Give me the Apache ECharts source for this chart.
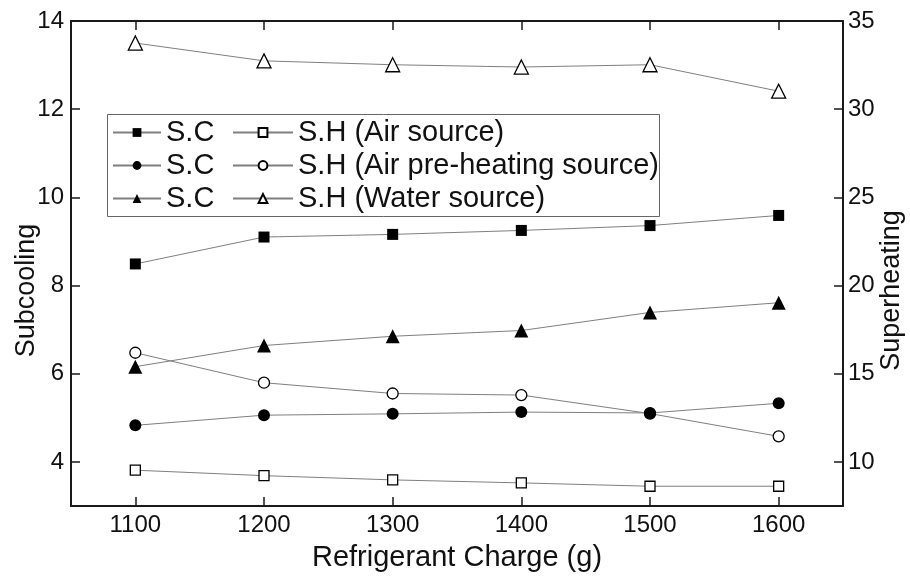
<!DOCTYPE html>
<html>
<head>
<meta charset="utf-8">
<script src="https://cdn.jsdelivr.net/npm/echarts@6/dist/echarts.min.js"></script>
<style>
  html, body { margin: 0; padding: 0; background: #fff; }
  #chart { width: 910px; height: 579px; }
</style>
</head>
<body>
<div id="chart"></div>
<script>
// refrigerant charge (g)
const charges = ['1100', '1200', '1300', '1400', '1500', '1600']

// subcooling, left axis
const scAir = [8.49, 9.10, 9.16, 9.25, 9.36, 9.59]
const scPreheat = [4.83, 5.06, 5.09, 5.13, 5.11, 5.33]
const scWater = [6.16, 6.64, 6.85, 6.98, 7.39, 7.61]

// superheating, right axis
const shAir = [9.53, 9.22, 8.98, 8.81, 8.62, 8.62]
const shPreheat = [16.19, 14.49, 13.88, 13.79, 12.74, 11.45]
const shWater = [33.75, 32.74, 32.52, 32.39, 32.52, 31.02]

const leftTicks = [4, 6, 8, 10, 12, 14]
const rightTicks = [10, 15, 20, 25, 30, 35]

const FONT = '"Liberation Sans", Arial, sans-serif'

const chart = echarts.init(document.getElementById('chart'))

function mkSeries(name, data, axis, symbol, size, filled) {
  return {
    name,
    type: 'line',
    data,
    yAxisIndex: axis,
    symbol,
    symbolSize: size,
    showAllSymbol: true,
    lineStyle: { color: '#7f7f7f', width: 1 },
    itemStyle: filled
      ? { color: '#000', borderColor: '#000', borderWidth: 0 }
      : { color: '#fff', borderColor: '#000', borderWidth: 1.3 },
    emphasis: { disabled: true },
    z: filled ? 3 : 2
  }
}

const series = [
  mkSeries('S.C (Air source)', scAir, 0, 'rect', 11, true),
  mkSeries('S.H (Air source)', shAir, 1, 'rect', 10, false),
  mkSeries('S.C (Air pre-heating source)', scPreheat, 0, 'circle', 12, true),
  mkSeries('S.H (Air pre-heating source)', shPreheat, 1, 'circle', 11, false),
  mkSeries('S.C (Water source)', scWater, 0, 'triangle', 14, true),
  mkSeries('S.H (Water source)', shWater, 1, 'triangle', 14, false)
]

const axisLine = { show: true, onZero: false, lineStyle: { color: '#1a1a1a', width: 2 } }
const tick = { show: true, inside: true, length: 9, lineStyle: { color: '#1a1a1a', width: 1.5 } }
const labelStyle = { fontFamily: FONT, fontSize: 24, color: '#111' }
// y names sit a little below the middle of the axis in the original
const yNameStyle = { fontFamily: FONT, fontSize: 27, color: '#111', padding: [0, 54, 0, 0] }

const legendText = { fontFamily: FONT, fontSize: 29, color: '#111', lineHeight: 27 }

const option = {
  backgroundColor: '#fff',
  animation: false,
  grid: { left: 71, right: 67, top: 21, bottom: 73, outerBoundsMode: 'none', containLabel: false },
  xAxis: [
    {
      type: 'category',
      data: charges,
      boundaryGap: true,
      name: 'Refrigerant Charge (g)',
      nameLocation: 'middle',
      nameGap: 37,
      nameMoveOverlap: false,
      nameTextStyle: { fontFamily: FONT, fontSize: 29, color: '#111' },
      axisLine,
      axisTick: { ...tick, alignWithLabel: true },
      axisLabel: { ...labelStyle, margin: 7 },
      splitLine: { show: false }
    },
    {
      type: 'category',
      data: charges,
      position: 'top',
      boundaryGap: true,
      axisLine,
      axisTick: { ...tick, alignWithLabel: true },
      axisLabel: { show: false },
      splitLine: { show: false }
    }
  ],
  yAxis: [
    {
      type: 'value',
      min: 3,
      max: 14,
      position: 'left',
      name: 'Subcooling',
      nameLocation: 'middle',
      nameGap: 31,
      nameMoveOverlap: false,
      nameRotate: 90,
      nameTextStyle: yNameStyle,
      axisLine,
      axisTick: { ...tick, customValues: leftTicks },
      axisLabel: { ...labelStyle, margin: 7, customValues: leftTicks },
      splitLine: { show: false }
    },
    {
      type: 'value',
      min: 7.5,
      max: 35,
      position: 'right',
      name: 'Superheating',
      nameLocation: 'middle',
      nameGap: 35,
      nameMoveOverlap: false,
      nameRotate: 90,
      nameTextStyle: yNameStyle,
      axisLine,
      axisTick: { ...tick, customValues: rightTicks },
      axisLabel: { ...labelStyle, margin: 5, customValues: rightTicks },
      splitLine: { show: false }
    }
  ],
  legend: [
    {
      data: series.filter(s => s.name.startsWith('S.C')).map(s => s.name),
      orient: 'vertical',
      left: 107,
      top: 113,
      itemWidth: 48,
      itemHeight: 11,
      itemGap: 4,
      formatter: () => 'S.C',
      textStyle: legendText,
      selectedMode: false
    },
    {
      data: series.filter(s => s.name.startsWith('S.H')).map(s => s.name),
      orient: 'vertical',
      left: 227,
      top: 113,
      itemWidth: 60,
      itemHeight: 11,
      itemGap: 4,
      textStyle: legendText,
      selectedMode: false
    }
  ],
  graphic: [
    {
      type: 'rect',
      left: 105,
      top: 112,
      shape: { width: 552, height: 102 },
      style: { fill: 'none', stroke: '#666', lineWidth: 1 },
      z: 10
    }
  ],
  series
}

chart.setOption(option)
</script>
</body>
</html>
